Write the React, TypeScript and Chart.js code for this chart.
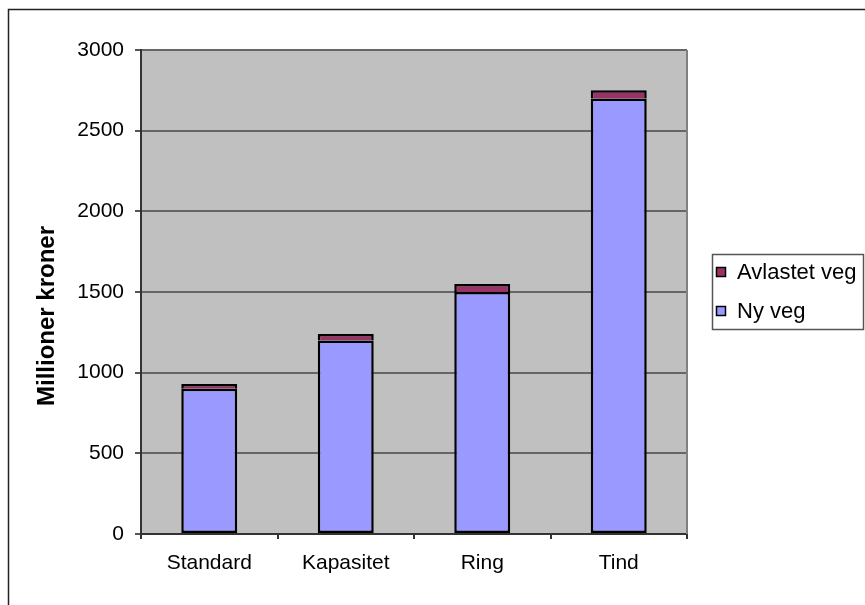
import React, { useEffect, useRef } from "react";
import { Chart, registerables } from "chart.js";

Chart.register(...registerables);

const categories = ["Standard", "Kapasitet", "Ring", "Tind"];
const nyVeg = [900, 1200, 1500, 2700];
const avlastetVeg = [30, 40, 50, 50];
const yTicks = [0, 500, 1000, 1500, 2000, 2500, 3000];
const yTitle = "Millioner kroner";
const seriesNy = "Ny veg";
const seriesAvlastet = "Avlastet veg";

const FONT = "'Liberation Sans', Arial, sans-serif";
const W = 865;
const H = 605;

const excelPlugin = {
  id: "excelLook",
  beforeDraw(chart: any) {
    const { ctx, chartArea: a } = chart;
    ctx.save();
    ctx.fillStyle = "#ffffff";
    ctx.fillRect(0, 0, chart.width, chart.height);
    ctx.fillStyle = "#C0C0C0";
    ctx.fillRect(a.left, a.top, a.right - a.left, a.bottom - a.top);
    // outer chart border (extends past the visible page)
    ctx.strokeStyle = "#222222";
    ctx.lineWidth = 1.5;
    ctx.beginPath();
    ctx.moveTo(8.5, chart.height + 5);
    ctx.lineTo(8.5, 9.5);
    ctx.lineTo(chart.width + 5, 9.5);
    ctx.stroke();
    ctx.restore();
  },
  beforeDatasetsDraw(chart: any) {
    const { ctx, chartArea: a } = chart;
    ctx.save();
    ctx.strokeStyle = "#808080";
    ctx.lineWidth = 2;
    ctx.beginPath();
    ctx.moveTo(a.right, a.top);
    ctx.lineTo(a.right, a.bottom);
    ctx.stroke();
    ctx.restore();
  },
  afterDraw(chart: any) {
    const { ctx } = chart;
    ctx.save();
    // y axis title
    ctx.translate(47, 316);
    ctx.rotate(-Math.PI / 2);
    ctx.font = `bold 24px ${FONT}`;
    ctx.fillStyle = "#000";
    ctx.textAlign = "center";
    ctx.textBaseline = "middle";
    ctx.fillText(yTitle, 0, 0);
    ctx.restore();

    // legend
    ctx.save();
    const lx = 712, ly = 254, lw = 151, lh = 75;
    ctx.fillStyle = "#fff";
    ctx.fillRect(lx, ly, lw, lh);
    ctx.strokeStyle = "#555";
    ctx.lineWidth = 1.5;
    ctx.strokeRect(lx + 0.5, ly + 0.5, lw, lh);
    const ds = chart.data.datasets;
    const items = [ds[1], ds[0]];
    const ys = [272, 311];
    ctx.font = `22px ${FONT}`;
    ctx.textAlign = "left";
    ctx.textBaseline = "middle";
    items.forEach((d: any, i: number) => {
      const cy = ys[i];
      ctx.fillStyle = d.backgroundColor;
      ctx.fillRect(716, cy - 5, 10, 10);
      ctx.strokeStyle = "#000";
      ctx.lineWidth = 1.5;
      ctx.strokeRect(716.5, cy - 4.5, 9, 9);
      ctx.fillStyle = "#000";
      ctx.fillText(d.label, 737, cy + 1);
    });
    ctx.restore();
  },
};

export default function App() {
  const ref = useRef<HTMLCanvasElement | null>(null);

  useEffect(() => {
    if (!ref.current) return;
    const chart = new Chart(ref.current, {
      type: "bar",
      data: {
        labels: categories,
        datasets: [
          {
            label: seriesNy,
            data: nyVeg,
            backgroundColor: "#9999FF",
            borderColor: "#000000",
            borderWidth: 2.5,
            borderSkipped: false,
            barPercentage: 0.41,
            categoryPercentage: 1,
          },
          {
            label: seriesAvlastet,
            data: avlastetVeg,
            backgroundColor: "#993366",
            borderColor: "#000000",
            borderWidth: 2.5,
            borderSkipped: "start",
            barPercentage: 0.41,
            categoryPercentage: 1,
          },
        ],
      },
      options: {
        responsive: false,
        animation: false,
        devicePixelRatio: 1,
        layout: { padding: { top: 50, right: 178, bottom: 0, left: 0 } },
        plugins: {
          legend: { display: false },
          tooltip: { enabled: false },
        },
        scales: {
          x: {
            stacked: true,
            offset: true,
            afterFit: (s: any) => {
              s.height = 71;
            },
            grid: {
              offset: true,
              drawOnChartArea: false,
              drawTicks: true,
              tickLength: 5,
              color: "#333",
              lineWidth: 2,
            },
            border: { color: "#333", width: 2 },
            ticks: {
              color: "#000",
              font: { family: FONT, size: 21 },
              padding: 12,
              maxRotation: 0,
            },
          },
          y: {
            stacked: true,
            min: 0,
            max: 3000,
            afterFit: (s: any) => {
              s.width = 141;
            },
            afterBuildTicks: (s: any) => {
              s.ticks = yTicks.map((v) => ({ value: v }));
            },
            grid: {
              color: "#666",
              lineWidth: 2,
              tickLength: 6,
              tickColor: "#555",
            },
            border: { color: "#333", width: 2 },
            ticks: {
              color: "#000",
              font: { family: FONT, size: 21 },
              padding: 11,
              callback: (v: any) => String(v),
            },
          },
        },
      },
      plugins: [excelPlugin],
    });
    return () => chart.destroy();
  }, []);

  return (
    <div style={{ position: "absolute", left: 0, top: 0, width: W, height: H }}>
      <canvas ref={ref} width={W} height={H} style={{ display: "block" }} />
    </div>
  );
}
